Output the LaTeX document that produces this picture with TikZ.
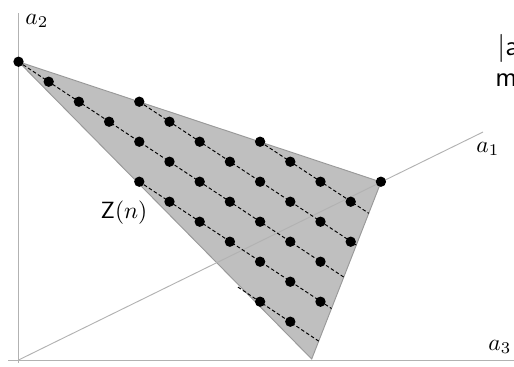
\documentclass[tikz,border=0pt]{standalone}
\usepackage{tikz}
\usetikzlibrary{positioning}
\tikzstyle{axis}=[draw=gray!60,line width=0.4pt]
\tikzstyle{cell}=[fill=gray!50,draw=gray!80,line width=0.4pt]
\tikzstyle{pt}=[circle,fill=black,inner sep=0pt,minimum size=1.55mm]
\tikzstyle{lat}=[dash pattern=on 1.5pt off 1pt,line width=0.4pt]
\tikzstyle{lbl}=[anchor=base west,inner sep=0pt]

\begin{document}
\begin{tikzpicture}[x=0.15mm,y=-0.15mm]
\useasboundingbox (0,0) rectangle (514,366);
% axes
\coordinate (O) at (18.5,360);
\coordinate (A1) at (483,132);
\coordinate (A2) at (18.5,13);
\coordinate (A2b) at (18.5,363);
\coordinate (A3a) at (8,360);
\coordinate (A3) at (514,360);
% corners of Z(n)
\coordinate (T) at (18.5,61.7);
\coordinate (R) at (381,182);
\coordinate (B) at (311.7,359);
\path[cell] (T) -- (R) -- (B) -- cycle;
\draw[axis] (O) -- (A1);
\draw[axis] (A2b) -- (A2);
\draw[axis] (A3a) -- (A3);
\node[lbl] (l1) at (476,152) {$a_1$};
\node[lbl] (l2) at (25,24) {$a_2$};
\node[lbl] (l3) at (488,350) {$a_3$};
\node (zn) at (124,213) {$\mathsf{Z}(n)$};
% lattice points
\foreach \i/\j in {0/0,1/1,2/2,3/3,4/2,5/3,4/4,5/5,4/6,5/7,6/4,6/6,6/8,7/5,7/7,7/9,
  8/4,8/6,8/8,8/10,8/12,9/5,9/7,9/9,9/11,9/13,10/6,10/8,10/10,10/12,11/7,11/9,12/6}
  \node[pt] (p\i-\j) at ({18.5+30.2*\i},{61.7+20*\j}) {};
% dashed rows, ending on the edge R--B
\coordinate (sE) at (238,287.1);
\coordinate (eA) at (343.8,277.1);
\coordinate (eB) at (356.3,245.0);
\coordinate (eC) at (368.8,213.3);
\coordinate (eD) at (331.5,308.5);
\coordinate (eE) at (318.7,341.1);
\draw[lat] (p0-0) -- (eA);
\draw[lat] (p4-2) -- (eB);
\draw[lat] (p8-4) -- (eC);
\draw[lat] (p4-6) -- (eD);
\draw[lat] (sE) -- (eE);
% cut off text at the right border
\node[lbl,font=\sffamily\large] (t1) at (497,55) {|a};
\node[lbl,font=\sffamily\large] (t2) at (495,86) {m};
\end{tikzpicture}
\end{document}
